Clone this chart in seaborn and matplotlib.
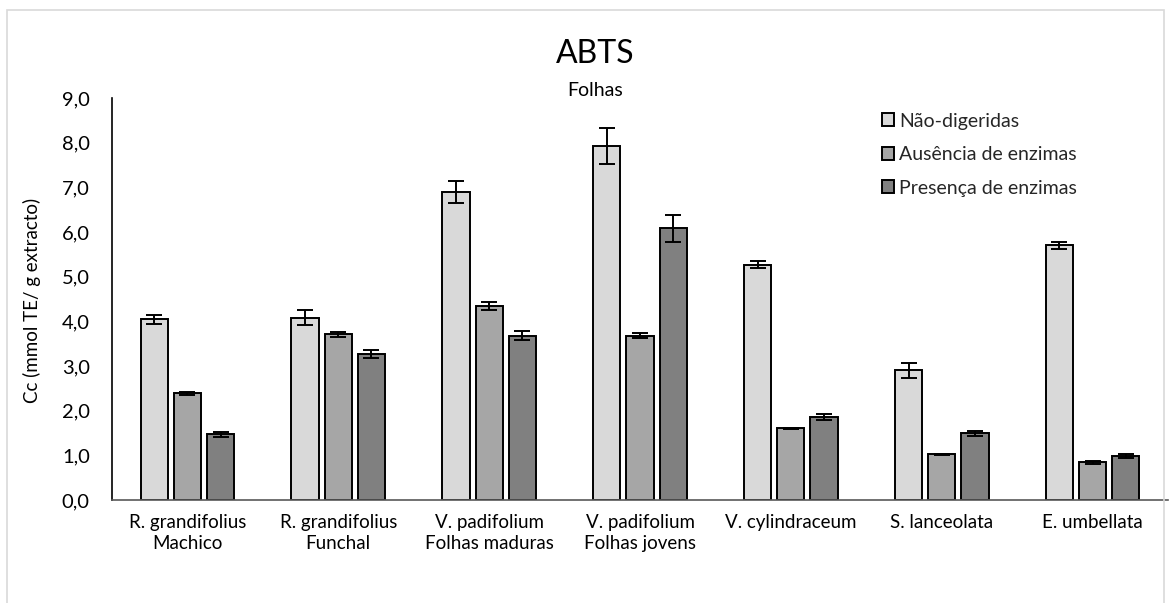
import matplotlib
matplotlib.use("Agg")
import matplotlib.pyplot as plt
from matplotlib.patches import Rectangle
from matplotlib.ticker import FuncFormatter
import pandas as pd
import seaborn as sns

# ---- data -------------------------------------------------------------
categories = [
    "R. grandifolius\nMachico",
    "R. grandifolius\nFunchal",
    "V. padifolium\nFolhas maduras",
    "V. padifolium\nFolhas jovens",
    "V. cylindraceum",
    "S. lanceolata",
    "E. umbellata",
]
series_names = ["Não-digeridas", "Ausência de enzimas", "Presença de enzimas"]

nao_digeridas = [4.05, 4.08, 6.90, 7.92, 5.27, 2.90, 5.70]
nao_digeridas_err = [0.10, 0.17, 0.25, 0.40, 0.07, 0.17, 0.08]

ausencia = [2.39, 3.71, 4.34, 3.68, 1.61, 1.02, 0.84]
ausencia_err = [0.03, 0.06, 0.09, 0.05, 0.01, 0.01, 0.03]

presenca = [1.47, 3.27, 3.68, 6.08, 1.86, 1.49, 0.99]
presenca_err = [0.06, 0.09, 0.10, 0.30, 0.06, 0.06, 0.04]

y_ticks = [0, 1, 2, 3, 4, 5, 6, 7, 8, 9]
bar_colors = ["#d9d9d9", "#a6a6a6", "#808080"]

# ---- long-form table for seaborn --------------------------------------
values = [nao_digeridas, ausencia, presenca]
errors = [nao_digeridas_err, ausencia_err, presenca_err]
df = pd.DataFrame({
    "categoria": categories * 3,
    "tratamento": [s for s in series_names for _ in categories],
    "valor": nao_digeridas + ausencia + presenca,
})

# ---- figure -----------------------------------------------------------
sns.set_theme(style="white")
plt.rcParams["font.family"] = ["Lato", "DejaVu Sans"]

W, H = 1171, 603
fig = plt.figure(figsize=(W / 100, H / 100), dpi=100)
ax = fig.add_axes([112 / W, 1 - 500 / H, (1168 - 112) / W, (500 - 98) / H])

# light outer frame of the chart area
fig.patches.append(Rectangle((7 / W, -0.05), (1164 - 7) / W, 1 - 10 / H + 0.05,
                             transform=fig.transFigure, fill=False,
                             edgecolor="#d9d9d9", linewidth=1.2))

sns.barplot(data=df, x="categoria", y="valor", hue="tratamento",
            order=categories, hue_order=series_names, palette=bar_colors,
            width=0.66, gap=0.18, errorbar=None,
            edgecolor="black", linewidth=1.4, saturation=1, ax=ax)

for container, vals, errs in zip(ax.containers, values, errors):
    xs = [b.get_x() + b.get_width() / 2 for b in container]
    ax.errorbar(xs, vals, yerr=errs, fmt="none", ecolor="black",
                elinewidth=1.4, capsize=6, capthick=1.4, zorder=5)

ax.set_ylim(0, 9)
ax.set_xlim(-0.5, len(categories) - 0.5)
ax.set_yticks(y_ticks)
ax.yaxis.set_major_formatter(FuncFormatter(lambda v, _: f"{v:.1f}".replace(".", ",")))
ax.tick_params(axis="y", length=0, pad=16, labelsize=14.5, colors="black")
ax.tick_params(axis="x", length=0, pad=10, labelsize=13.5, colors="black")
for lab in ax.get_xticklabels():
    lab.set_linespacing(1.3)

ax.set_xlabel("")
ax.set_ylabel("")
fig.text(32 / W, 1 - 300 / H, "Cc (mmol TE/ g extracto)", rotation=90,
         ha="center", va="center", fontsize=13.5, color="black")

for side in ["top", "right"]:
    ax.spines[side].set_visible(False)
ax.spines["left"].set_color("black")
ax.spines["left"].set_linewidth(1.2)
ax.spines["bottom"].set_color("#595959")
ax.spines["bottom"].set_linewidth(1.2)
ax.grid(False)

# title and subtitle
fig.text(595 / W, 1 - 54 / H, "ABTS", ha="center", va="center",
         fontsize=23, color="black")
fig.text(595 / W, 1 - 91 / H, "Folhas", ha="center", va="center",
         fontsize=14, color="black")

# legend
handles, labels = ax.get_legend_handles_labels()
ax.legend(handles, labels, loc="upper left",
          bbox_to_anchor=(872 / W, 1 - 103 / H), bbox_transform=fig.transFigure,
          frameon=False, fontsize=14, handlelength=0.65, handleheight=0.65,
          handletextpad=0.25, labelspacing=0.85, borderpad=0)

fig.savefig("out.png", dpi=100, facecolor="white")
